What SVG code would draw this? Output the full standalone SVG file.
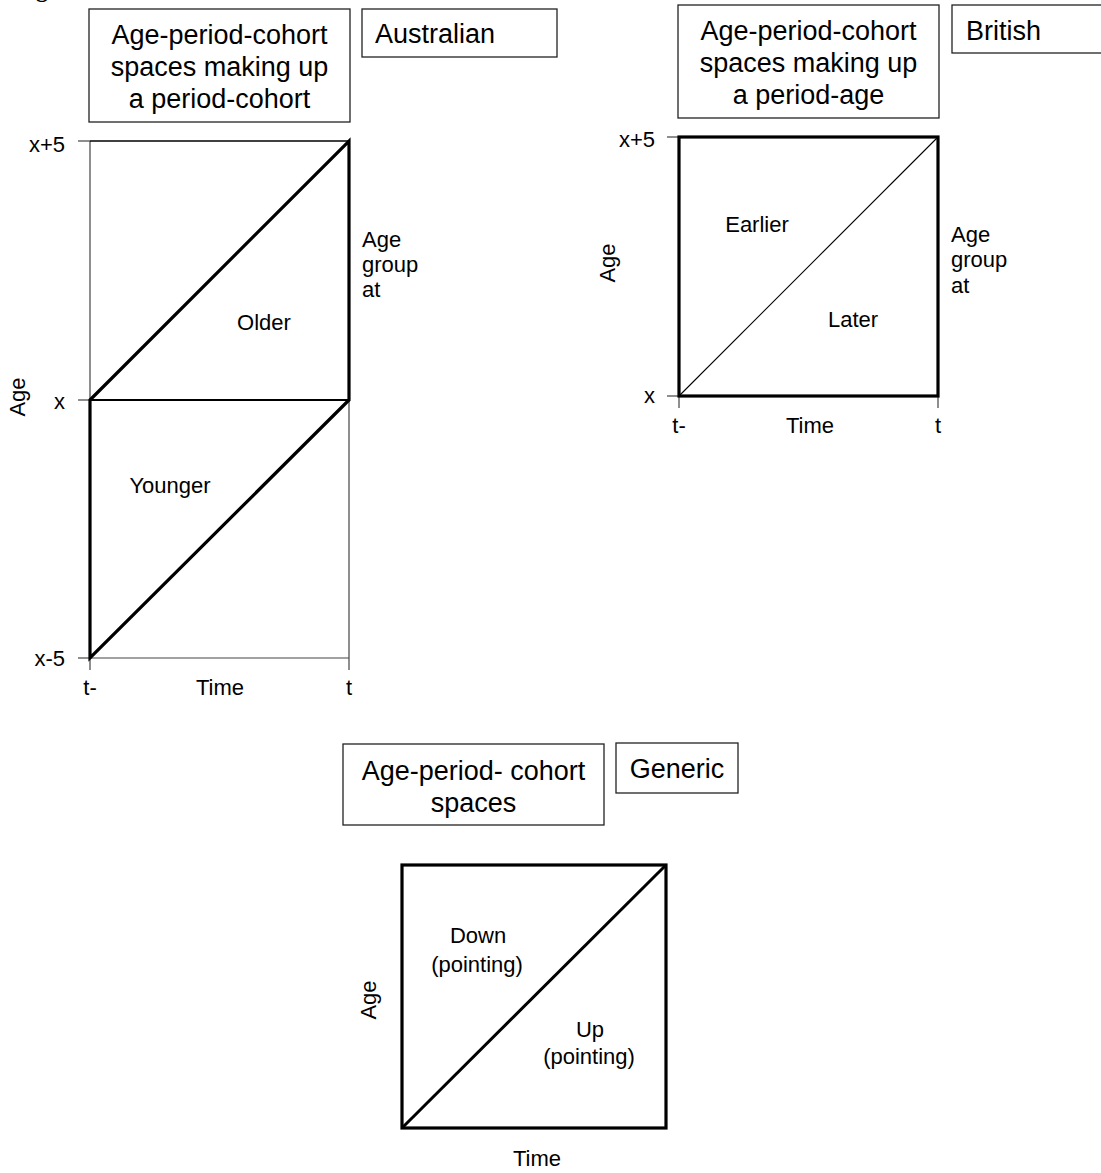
<svg xmlns="http://www.w3.org/2000/svg" width="1101" height="1173" viewBox="0 0 1101 1173">
<style>
text{font-family:"Liberation Sans",Arial,sans-serif;fill:#000}
.t{font-size:27px;text-anchor:middle}
.tl{font-size:27px}
.l{font-size:22px}
.m{font-size:22px;text-anchor:middle}
.r{font-size:22px;text-anchor:end}
.box{fill:#fff;stroke:#222;stroke-width:1.3}
.thin{stroke:#444;stroke-width:1.2;fill:none}
.med{stroke:#000;stroke-width:1.8;fill:none}
.thick{stroke:#000;stroke-width:3.2;fill:none;stroke-linecap:square}
</style>
<rect width="1101" height="1173" fill="#fff"/>
<text x="36" y="-3" style="font-family:'Liberation Serif',serif;font-weight:bold;font-size:24px">g</text>

<g id="title-australian">
<rect class="box" x="89" y="9" width="261" height="113"/>
<text class="t" x="219.5" y="44">Age-period-cohort</text>
<text class="t" x="219.5" y="76">spaces making up</text>
<text class="t" x="219.5" y="108">a period-cohort</text>
</g>
<g id="tag-australian">
<rect class="box" x="362" y="9" width="195" height="48"/>
<text class="tl" x="375" y="43">Australian</text>
</g>

<g id="chart-australian">
<line class="thin" x1="78" y1="141" x2="90" y2="141"/>
<line class="thin" x1="78" y1="400" x2="90" y2="400"/>
<line class="thin" x1="78" y1="658" x2="90" y2="658"/>
<line class="thin" x1="90" y1="141" x2="90" y2="670"/>
<line class="thin" x1="349" y1="141" x2="349" y2="670"/>
<line class="thin" x1="90" y1="658" x2="349" y2="658"/>
<line class="med" x1="90" y1="141" x2="349" y2="141" style="stroke-width:1.4"/>
<line class="med" x1="90" y1="400" x2="349" y2="400"/>
<polygon class="thick" points="90,400 349,141 349,400 90,658"/>
<text class="r" x="65" y="152">x+5</text>
<text class="r" x="65" y="409">x</text>
<text class="r" x="65" y="666">x-5</text>
<text class="m" x="90" y="695">t-</text>
<text class="m" x="220" y="695">Time</text>
<text class="m" x="349" y="695">t</text>
<text class="m" transform="translate(25,397) rotate(-90)">Age</text>
<text class="m" x="264" y="330">Older</text>
<text class="m" x="170" y="493">Younger</text>
<text class="l" x="362" y="247">Age</text>
<text class="l" x="362" y="272">group</text>
<text class="l" x="362" y="297">at</text>
</g>

<g id="title-british">
<rect class="box" x="678" y="5" width="261" height="113"/>
<text class="t" x="808.5" y="40">Age-period-cohort</text>
<text class="t" x="808.5" y="72">spaces making up</text>
<text class="t" x="808.5" y="104">a period-age</text>
</g>
<g id="tag-british">
<rect class="box" x="952" y="5" width="200" height="48"/>
<text class="tl" x="966" y="40">British</text>
</g>

<g id="chart-british">
<line class="thin" x1="667" y1="137" x2="679" y2="137"/>
<line class="thin" x1="667" y1="396" x2="679" y2="396"/>
<line class="thin" x1="679" y1="396" x2="679" y2="408"/>
<line class="thin" x1="938" y1="396" x2="938" y2="408"/>
<rect class="thick" x="679" y="137" width="259" height="259"/>
<line x1="679" y1="396" x2="938" y2="137" stroke="#000" stroke-width="1.1"/>
<text class="r" x="655" y="147">x+5</text>
<text class="r" x="655" y="403">x</text>
<text class="m" x="679" y="433">t-</text>
<text class="m" x="810" y="433">Time</text>
<text class="m" x="938" y="433">t</text>
<text class="m" transform="translate(615,263) rotate(-90)">Age</text>
<text class="m" x="757" y="232">Earlier</text>
<text class="m" x="853" y="327">Later</text>
<text class="l" x="951" y="242">Age</text>
<text class="l" x="951" y="267">group</text>
<text class="l" x="951" y="293">at</text>
</g>

<g id="title-generic">
<rect class="box" x="343" y="744" width="261" height="81"/>
<text class="t" x="473.5" y="780">Age-period- cohort</text>
<text class="t" x="473.5" y="812">spaces</text>
</g>
<g id="tag-generic">
<rect class="box" x="616" y="743" width="122" height="50"/>
<text class="t" x="677" y="778">Generic</text>
</g>

<g id="chart-generic">
<rect class="thick" x="402" y="865" width="264" height="263"/>
<line x1="402" y1="1128" x2="666" y2="865" stroke="#000" stroke-width="3"/>
<text class="m" x="478" y="943">Down</text>
<text class="m" x="477" y="972">(pointing)</text>
<text class="m" x="590" y="1037">Up</text>
<text class="m" x="589" y="1064">(pointing)</text>
<text class="m" x="537" y="1166">Time</text>
<text class="m" transform="translate(376,1000) rotate(-90)">Age</text>
</g>
<g id="connectors"></g>
</svg>
